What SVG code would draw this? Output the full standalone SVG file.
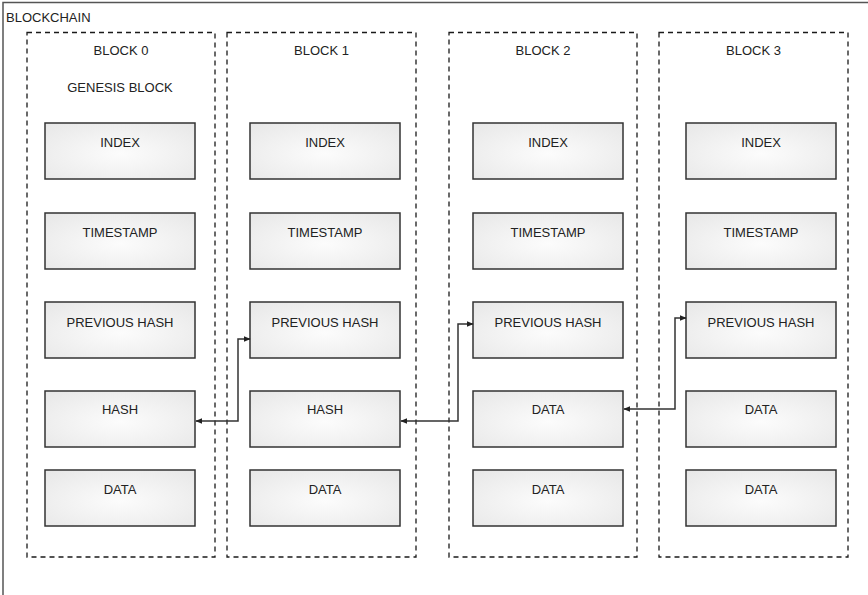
<svg xmlns="http://www.w3.org/2000/svg" width="868" height="595" viewBox="0 0 868 595">
<defs>
<radialGradient id="g" cx="50%" cy="55%" r="70%">
<stop offset="0" stop-color="#fcfcfc"/>
<stop offset="1" stop-color="#e8e8e8"/>
</radialGradient>
<marker id="ah" viewBox="0 0 10 10" refX="9" refY="5" markerWidth="7" markerHeight="7" orient="auto-start-reverse" markerUnits="userSpaceOnUse">
<path d="M0,1 L10,5 L0,9 z" fill="#222"/>
</marker>
<style>
text{font-family:"Liberation Sans",Arial,sans-serif;font-size:13px;fill:#222}
.c{text-anchor:middle}
.blk{fill:none;stroke:#1a1a1a;stroke-width:1.3;stroke-dasharray:5,4}
.box{fill:url(#g);stroke:#333;stroke-width:1.5}
.cn{fill:none;stroke:#333;stroke-width:1.5;marker-start:url(#ah);marker-end:url(#ah)}
</style>
</defs>
<rect width="868" height="595" fill="#fff"/>
<g id="blockchain">
<path d="M3,600 V2.5 H870" fill="none" stroke="#555" stroke-width="1.5"/>
<text x="6" y="22">BLOCKCHAIN</text>
</g>
<g id="block0">
<rect class="blk" x="27" y="32.5" width="188" height="524.5"/>
<text class="c" x="121" y="55">BLOCK 0</text>
<text class="c" x="120" y="92">GENESIS BLOCK</text>
</g>
<g id="block1">
<rect class="blk" x="227" y="32.5" width="189" height="524.5"/>
<text class="c" x="321.5" y="55">BLOCK 1</text>
</g>
<g id="block2">
<rect class="blk" x="449" y="32.5" width="188" height="524.5"/>
<text class="c" x="543" y="55">BLOCK 2</text>
</g>
<g id="block3">
<rect class="blk" x="659" y="32.5" width="189" height="524.5"/>
<text class="c" x="753.5" y="55">BLOCK 3</text>
</g>
<g id="b0-index"><rect class="box" x="45" y="123" width="150" height="56"/><text class="c" x="120" y="147">INDEX</text></g>
<g id="b0-timestamp"><rect class="box" x="45" y="213" width="150" height="56"/><text class="c" x="120" y="237">TIMESTAMP</text></g>
<g id="b0-prevhash"><rect class="box" x="45" y="302" width="150" height="56"/><text class="c" x="120" y="327">PREVIOUS HASH</text></g>
<g id="b0-hash"><rect class="box" x="45" y="391" width="150" height="56"/><text class="c" x="120" y="414">HASH</text></g>
<g id="b0-data"><rect class="box" x="45" y="470" width="150" height="56"/><text class="c" x="120" y="494">DATA</text></g>
<g id="b1-index"><rect class="box" x="250" y="123" width="150" height="56"/><text class="c" x="325" y="147">INDEX</text></g>
<g id="b1-timestamp"><rect class="box" x="250" y="213" width="150" height="56"/><text class="c" x="325" y="237">TIMESTAMP</text></g>
<g id="b1-prevhash"><rect class="box" x="250" y="302" width="150" height="56"/><text class="c" x="325" y="327">PREVIOUS HASH</text></g>
<g id="b1-hash"><rect class="box" x="250" y="391" width="150" height="56"/><text class="c" x="325" y="414">HASH</text></g>
<g id="b1-data"><rect class="box" x="250" y="470" width="150" height="56"/><text class="c" x="325" y="494">DATA</text></g>
<g id="b2-index"><rect class="box" x="473" y="123" width="150" height="56"/><text class="c" x="548" y="147">INDEX</text></g>
<g id="b2-timestamp"><rect class="box" x="473" y="213" width="150" height="56"/><text class="c" x="548" y="237">TIMESTAMP</text></g>
<g id="b2-prevhash"><rect class="box" x="473" y="302" width="150" height="56"/><text class="c" x="548" y="327">PREVIOUS HASH</text></g>
<g id="b2-data1"><rect class="box" x="473" y="391" width="150" height="56"/><text class="c" x="548" y="414">DATA</text></g>
<g id="b2-data2"><rect class="box" x="473" y="470" width="150" height="56"/><text class="c" x="548" y="494">DATA</text></g>
<g id="b3-index"><rect class="box" x="686" y="123" width="150" height="56"/><text class="c" x="761" y="147">INDEX</text></g>
<g id="b3-timestamp"><rect class="box" x="686" y="213" width="150" height="56"/><text class="c" x="761" y="237">TIMESTAMP</text></g>
<g id="b3-prevhash"><rect class="box" x="686" y="302" width="150" height="56"/><text class="c" x="761" y="327">PREVIOUS HASH</text></g>
<g id="b3-data1"><rect class="box" x="686" y="391" width="150" height="56"/><text class="c" x="761" y="414">DATA</text></g>
<g id="b3-data2"><rect class="box" x="686" y="470" width="150" height="56"/><text class="c" x="761" y="494">DATA</text></g>
<g id="connectors">
<path class="cn" d="M196,421 H238 V339 H250"/>
<path class="cn" d="M401,421 H458 V324 H473"/>
<path class="cn" d="M624,409 H675 V318 H686"/>
</g>
</svg>
